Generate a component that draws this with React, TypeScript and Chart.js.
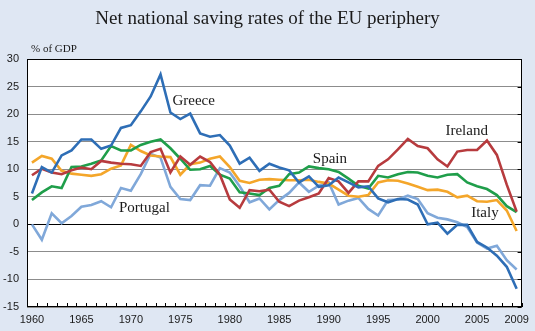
import React, { useEffect, useRef } from 'react';
import { Chart, registerables } from 'chart.js';

Chart.register(...registerables);

const years = [
  '1960', '1961', '1962', '1963', '1964', '1965', '1966', '1967', '1968', '1969',
  '1970', '1971', '1972', '1973', '1974', '1975', '1976', '1977', '1978', '1979',
  '1980', '1981', '1982', '1983', '1984', '1985', '1986', '1987', '1988', '1989',
  '1990', '1991', '1992', '1993', '1994', '1995', '1996', '1997', '1998', '1999',
  '2000', '2001', '2002', '2003', '2004', '2005', '2006', '2007', '2008', '2009',
];

const greece = [
  5.6, 10.4, 9.4, 12.5, 13.4, 15.4, 15.4, 13.7, 14.3, 17.5,
  18.0, 20.5, 23.2, 27.2, 20.3, 19.1, 20.1, 16.5, 15.9, 16.2,
  14.3, 11.0, 12.1, 9.7, 11.0, 10.3, 9.8, 7.6, 8.7, 6.8,
  7.1, 8.5, 7.6, 6.7, 6.9, 4.7, 4.0, 4.6, 4.5, 3.6,
  0.0, 0.3, -1.7, -0.1, -0.1, -3.2, -4.2, -5.7, -7.7, -11.7,
];

const ireland = [
  8.9, 10.1, 9.4, 9.1, 9.8, 10.3, 10.0, 11.5, 11.2, 11.0,
  10.9, 10.6, 13.1, 13.7, 9.4, 12.3, 10.8, 12.3, 11.3, 9.0,
  4.5, 3.0, 6.2, 6.0, 6.3, 4.1, 3.3, 4.3, 4.9, 5.6,
  8.4, 7.8, 5.7, 7.8, 7.8, 10.6, 11.8, 13.6, 15.5, 14.2,
  13.8, 11.8, 10.5, 13.2, 13.5, 13.5, 15.2, 12.6, 7.2, 2.3,
];

const spain = [
  4.4, 5.8, 6.9, 6.6, 10.4, 10.5, 11.0, 11.6, 14.2, 13.4,
  13.4, 14.4, 15.0, 15.4, 13.8, 11.9, 9.9, 10.0, 10.6, 9.0,
  8.3, 5.8, 5.6, 5.3, 6.6, 7.0, 9.1, 9.4, 10.5, 10.2,
  10.0, 9.5, 8.3, 7.0, 6.5, 8.8, 8.5, 9.1, 9.5, 9.4,
  8.8, 8.5, 9.0, 9.1, 7.6, 6.9, 6.4, 5.3, 3.3, 2.2,
];

const italy = [
  11.2, 12.4, 11.9, 9.7, 9.2, 9.0, 8.8, 9.1, 10.1, 10.7,
  14.4, 13.3, 12.5, 12.3, 12.2, 9.0, 10.9, 11.2, 11.9, 12.3,
  10.4, 7.9, 7.5, 8.1, 8.2, 8.1, 8.0, 8.0, 8.1, 7.7,
  7.4, 6.3, 5.2, 5.0, 5.3, 7.6, 8.0, 7.9, 7.4, 6.8,
  6.2, 6.3, 5.9, 4.9, 5.2, 4.2, 4.1, 4.4, 2.5, -1.2,
];

const portugal = [
  0.0, -2.8, 2.0, 0.2, 1.5, 3.2, 3.5, 4.2, 3.1, 6.6,
  6.1, 9.1, 12.8, 12.1, 6.8, 4.6, 4.4, 7.1, 7.0, 10.2,
  9.4, 6.9, 4.0, 4.7, 2.7, 4.4, 5.7, 7.6, 5.9, 7.0,
  7.6, 3.6, 4.3, 4.8, 2.8, 1.6, 4.4, 4.5, 5.2, 4.6,
  2.0, 1.2, 0.9, 0.4, -0.5, -3.3, -4.4, -3.9, -6.5, -8.2,
];

const seriesNames = ['Greece', 'Ireland', 'Spain', 'Italy', 'Portugal'];
const seriesData = [greece, ireland, spain, italy, portugal];
const seriesColors = ['#2e6eb6', '#b73b3e', '#1f9e4a', '#f4a62a', '#80a8d9'];

// In-chart series labels, placed in data coordinates (category index, value)
const labelTexts = ['Greece', 'Spain', 'Ireland', 'Italy', 'Portugal'];
const labelIndex = [14.2, 28.4, 41.8, 44.4, 8.8];
const labelValue = [21.7, 11.2, 16.2, 1.4, 2.3];

const titleText = 'Net national saving rates of the EU periphery';
const unitText = '% of GDP';
const yMin = -15;
const yMax = 30;
const yStep = 5;

const decor = {
  id: 'decor',
  beforeDraw(chart: any) {
    const { ctx, chartArea: a, width, height } = chart;
    ctx.save();
    ctx.fillStyle = '#dfe7f3';
    ctx.fillRect(0, 0, width, height);
    ctx.fillStyle = '#ffffff';
    ctx.fillRect(a.left, a.top, a.right - a.left, a.bottom - a.top);
    ctx.fillStyle = '#1a1a1a';
    ctx.font = '19px "Liberation Serif"';
    ctx.textAlign = 'center';
    ctx.textBaseline = 'alphabetic';
    ctx.fillText(titleText, width / 2, 23.5);
    ctx.font = '11px "Liberation Serif"';
    ctx.textAlign = 'left';
    ctx.fillText(unitText, 31, 52);
    ctx.restore();
  },
  afterDatasetsDraw(chart: any) {
    const { ctx, chartArea: a, scales } = chart;
    const xs = scales.x;
    const ys = scales.y;
    ctx.save();
    // labels
    ctx.fillStyle = '#1a1a1a';
    ctx.font = '15px "Liberation Serif"';
    ctx.textAlign = 'left';
    ctx.textBaseline = 'alphabetic';
    labelTexts.forEach((t, i) => {
      ctx.fillText(t, xs.getPixelForValue(labelIndex[i]), ys.getPixelForValue(labelValue[i]));
    });
    // frame
    ctx.strokeStyle = '#000';
    ctx.lineWidth = 1;
    ctx.strokeRect(Math.round(a.left) + 0.5, Math.round(a.top) + 0.5, Math.round(a.right - a.left) - 1, Math.round(a.bottom - a.top) - 1);
    // x inward ticks at category boundaries
    ctx.beginPath();
    for (let i = 0; i <= years.length; i++) {
      const x = Math.round(xs.getPixelForValue(i - 0.5)) + 0.5;
      ctx.moveTo(x, a.bottom);
      ctx.lineTo(x, a.bottom - 4);
    }
    // right inward ticks at gridlines
    ys.ticks.forEach((t: any) => {
      const y = Math.round(ys.getPixelForValue(t.value)) + 0.5;
      ctx.moveTo(a.right - 4, y);
      ctx.lineTo(a.right, y);
    });
    ctx.stroke();
    ctx.restore();
  },
};

export default function App() {
  const ref = useRef<HTMLCanvasElement | null>(null);

  useEffect(() => {
    document.body.style.margin = '0';
    const canvas = ref.current;
    if (!canvas) return;
    const chart = new Chart(canvas, {
      type: 'line',
      data: {
        labels: years,
        datasets: seriesNames.map((name, i) => ({
          label: name,
          data: seriesData[i],
          borderColor: seriesColors[i],
          backgroundColor: seriesColors[i],
          borderWidth: 2.6,
          pointRadius: 0,
          tension: 0,
          fill: false,
        })),
      },
      options: {
        animation: false,
        responsive: false,
        devicePixelRatio: 1,
        layout: { padding: { top: 59, right: 12, left: 0, bottom: 0 } },
        plugins: {
          legend: { display: false },
          tooltip: { enabled: false },
          title: { display: false },
        },
        scales: {
          x: {
            type: 'category',
            offset: true,
            grid: { display: false, drawTicks: false },
            border: { display: false },
            ticks: {
              autoSkip: false,
              maxRotation: 0,
              minRotation: 0,
              padding: 6,
              color: '#1a1a1a',
              font: { family: '"Liberation Sans", Arial, sans-serif', size: 11 },
              callback: (_v: any, i: number) => {
                const y = years[i];
                return Number(y) % 5 === 0 || y === '2009' ? y : '';
              },
            },
            afterFit: (s: any) => {
              s.height = 24;
            },
          },
          y: {
            min: yMin,
            max: yMax,
            ticks: {
              stepSize: yStep,
              padding: 8,
              color: '#1a1a1a',
              font: { family: '"Liberation Sans", Arial, sans-serif', size: 11 },
            },
            grid: {
              drawTicks: false,
              lineWidth: 1,
              color: (c: any) => (c.tick && c.tick.value === 0 ? '#000000' : '#8c8c8c'),
            },
            border: { display: false },
            afterFit: (s: any) => {
              s.width = 27;
            },
          },
        },
      },
      plugins: [decor],
    } as any);
    return () => chart.destroy();
  }, []);

  return (
    <div style={{ width: 535, height: 331, position: 'relative' }}>
      <canvas ref={ref} width={535} height={331} style={{ display: 'block', width: 535, height: 331 }} />
    </div>
  );
}
